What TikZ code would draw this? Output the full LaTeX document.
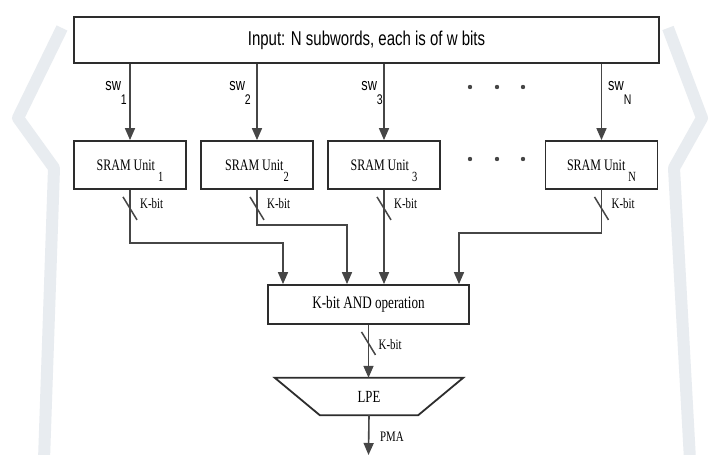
\documentclass[tikz,border=0pt]{standalone}
\usepackage{fontspec}
\setmainfont{Liberation Serif}[FakeStretch=0.75]
\setsansfont{Liberation Sans}[FakeStretch=0.75]
\usetikzlibrary{positioning, arrows.meta, calc}
\definecolor{boxgray}{RGB}{45,45,45}
\definecolor{linegray}{RGB}{70,70,70}
\definecolor{wmgray}{RGB}{232,236,240}
\newcommand{\lowsub}[2][11pt]{\raisebox{-#1}[0pt][0pt]{\fontsize{14}{14}\selectfont #2}}

\begin{document}
\begin{tikzpicture}[
    x=1pt, y=-1pt,
    inbox/.style={draw=boxgray, line width=1.8pt, fill=white, minimum width=585pt, minimum height=46pt, inner sep=0pt, font=\sffamily\fontsize{20}{22}\selectfont},
    unitbox/.style={draw=boxgray, line width=1.8pt, fill=white, minimum width=112pt, minimum height=48pt, inner sep=0pt, font=\fontsize{16}{18}\selectfont},
    andbox/.style={unitbox, minimum width=201pt, minimum height=39pt, font=\fontsize{17.5}{19}\selectfont},
    lpebox/.style={minimum width=188pt, minimum height=37pt, inner sep=0pt, font=\fontsize{17}{19}\selectfont},
    swlabel/.style={inner sep=0pt, font=\sffamily\fontsize{17}{19}\selectfont},
    kbitlabel/.style={inner sep=0pt, anchor=west, font=\fontsize{14.5}{16}\selectfont},
    arrow/.style={-{Triangle[width=10pt,length=12pt]}, draw=linegray, line width=1.6pt},
    slash/.style={draw=linegray, line width=1.5pt},
    wmark/.style={draw=wmgray, line width=12pt, line join=round}
]
    \fill[white] (0,0) rectangle (713,455);
    \useasboundingbox (0,0) rectangle (713,455);

    % --- background watermark ---
    \draw[wmark] (62,28) -- (18,118) -- (54,168) -- (44,460);
    \draw[wmark] (668,28) -- (702,118) -- (674,168) -- (690,460);

    % --- input and SRAM units ---
    \node[inbox] (in) at (366.5,40) {Input: N subwords, each is of w bits};
    \node[unitbox] (u1) at (130,165) {SRAM Unit \lowsub{1}};
    \node[unitbox] (u2) at (257,165) {SRAM Unit\lowsub{2}};
    \node[unitbox] (u3) at (384,165) {SRAM Unit \lowsub{3}};
    \node[unitbox] (uN) at (601.5,165) {SRAM Unit \lowsub{N}};

    \node[swlabel, anchor=base east] (s1) at (127,90) {sw\lowsub[14pt]{1}};
    \node[swlabel, anchor=base east] (s2) at (251,90) {sw\lowsub[14pt]{2}};
    \node[swlabel, anchor=base east] (s3) at (383,90) {sw\lowsub[14pt]{3}};
    \node[swlabel, anchor=base west] (sN) at (608,90) {sw\lowsub[14pt]{N}};

    \foreach \x in {470,497,523}
        \foreach \y in {87,159}
            \fill[linegray] (\x,\y) circle (2.2pt);

    % --- AND and LPE ---
    \node[andbox] (andop) at (368.5,304.5) {K-bit AND operation};
    \node[lpebox] (lpe) at (369,396.5) {LPE};
    \draw[draw=boxgray, line width=1.8pt] (lpe.north west) -- (lpe.north east)
        -- ([xshift=-45pt]lpe.south east) -- ([xshift=45pt]lpe.south west) -- cycle;
    \coordinate (pma) at (368.5,455);

    % Connections
    \foreach \u in {u1,u2,u3,uN}
        \draw[arrow] (in.south -| \u.north) -- (\u.north);
    \draw[arrow] (u1.south) -- ++(0,53) -| ([xshift=-85.5pt]andop.north);
    \draw[arrow] (u2.south) -- ++(0,35) -| ([xshift=-21.5pt]andop.north);
    \draw[arrow] (u3.south) -- (u3.south |- andop.north);
    \draw[arrow] (uN.south) -- ++(0,43) -| ([xshift=90.5pt]andop.north);
    \draw[arrow] (andop.south) -- (andop.south |- lpe.north);
    \draw[arrow] (lpe.south) -- (pma);

    \foreach \u/\ty in {u1/14,u2/14,u3/14,uN/14,andop/20} {
        \draw[slash] ([shift={(-7,7)}]\u.south) -- ++(14,23);
        \node[kbitlabel] (k\u) at ([shift={(10,\ty)}]\u.south) {K-bit};
    }
    \node[kbitlabel] (pmalabel) at ([shift={(11,22)}]lpe.south) {PMA};

\end{tikzpicture}
\end{document}
